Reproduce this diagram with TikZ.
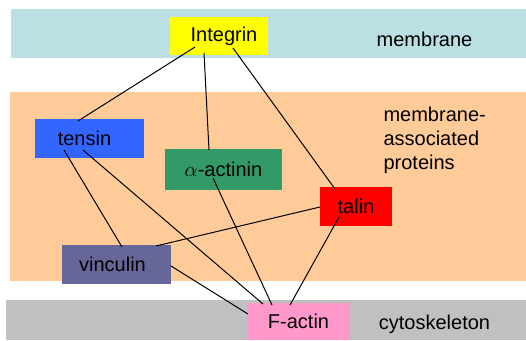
\documentclass[tikz,border=0pt]{standalone}
\usepackage{fontspec}
\setmainfont{Liberation Sans}
\usepackage{tikz}
\usetikzlibrary{calc}
\definecolor{memcol}{RGB}{187,224,227}
\definecolor{assoccol}{RGB}{255,204,153}
\definecolor{cytocol}{RGB}{192,192,192}
\definecolor{integcol}{RGB}{255,255,0}
\definecolor{tensincol}{RGB}{51,102,255}
\definecolor{actinincol}{RGB}{51,153,102}
\definecolor{talincol}{RGB}{255,0,0}
\definecolor{vinccol}{RGB}{102,102,153}
\definecolor{factincol}{RGB}{255,153,204}
\tikzset{
  prot/.style={rectangle, inner sep=0pt, font=\fontsize{20}{24}\selectfont},
  lbl/.style={font=\fontsize{20}{24}\selectfont},
  link/.style={line width=1pt, color=black}
}

\begin{document}
\begin{tikzpicture}[x=1pt, y=-1pt]
  \useasboundingbox (0,0) rectangle (526,340);

  % Bands
  \fill[memcol] (11,9) rectangle (526,58);
  \fill[assoccol] (10,92) rectangle (526,281);
  \fill[cytocol] (6,300) rectangle (526,340);

  % Nodes
  \node[prot, fill=integcol, minimum width=98pt, minimum height=38pt] (integrin) at (219,36) {\hspace*{10pt}Integrin};
  \node[prot, fill=tensincol, minimum width=109pt, minimum height=39pt] (tensin) at (89.5,138.5) {tensin\hspace*{10pt}};
  \node[prot, fill=actinincol, minimum width=117pt, minimum height=41pt] (actinin) at (223.5,169.5) {$\alpha$-actinin};
  \node[prot, fill=talincol, minimum width=72pt, minimum height=39pt] (talin) at (356,206.5) {talin};
  \node[prot, fill=vinccol, minimum width=109pt, minimum height=39pt] (vinculin) at (116.5,264.5) {vinculin\hspace*{8pt}};
  \node[prot, fill=factincol, minimum width=103pt, minimum height=37pt] (factin) at (298.5,321.5) {F-actin};

  % Layer labels
  \node[lbl] (memlbl) at (424.5,39) {membrane};
  \node[lbl, anchor=west, align=left] (assoclbl) at (380,140) {membrane-\\associated\\ proteins};
  \node[lbl] (cytolbl) at (434.5,324) {cytoskeleton};

  % Paths
  \draw[link] ($(integrin)+(-24,11)$) -- ($(tensin)+(-11.5,-17.5)$);
  \draw[link] ($(integrin)+(-15,17)$) -- ($(actinin)+(-14.5,-19.5)$);
  \draw[link] ($(integrin)+(14,12)$) -- ($(talin)+(-21,-17.5)$);
  \draw[link] ($(tensin)+(-25.5,11.5)$) -- ($(vinculin)+(5.5,-17.5)$);
  \draw[link] ($(tensin)+(-6.5,11.5)$) -- ($(factin)+(-35.5,-17.5)$);
  \draw[link] ($(actinin)+(-10.5,8.5)$) -- ($(factin)+(-26.5,-16.5)$);
  \draw[link] ($(talin)+(-36,0.5)$) -- ($(vinculin)+(39.5,-18.5)$);
  \draw[link] ($(talin)+(-17,10.5)$) -- ($(factin)+(-8.5,-16.5)$);
  \draw[link] ($(vinculin)+(54.5,1.5)$) -- ($(factin)+(-50.5,-7.5)$);

\end{tikzpicture}
\end{document}
